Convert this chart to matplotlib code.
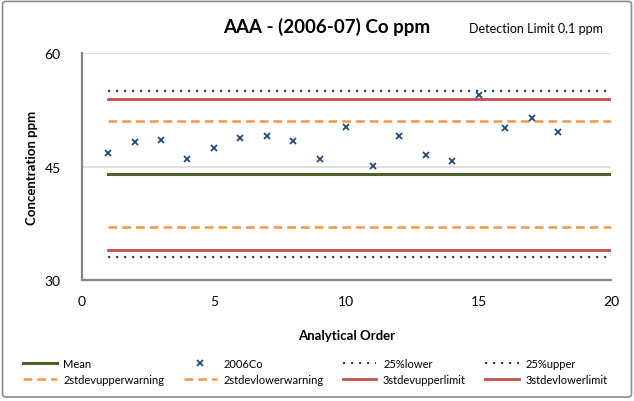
import numpy as np
import matplotlib.pyplot as plt
from matplotlib.patches import FancyBboxPatch

plt.rcParams['font.family'] = ['Lato', 'DejaVu Sans']

# Co results (ppm) in analytical order
order = list(range(1, 19))
co_2006 = [46.8, 48.3, 48.5, 46.0, 47.4, 48.8, 49.0, 48.4, 46.0, 50.2,
           45.1, 49.0, 46.5, 45.7, 54.5, 50.1, 51.4, 49.6]

# Control limits drawn across runs 1-20
limit_x = [1, 20]
mean_val = 44.0
upper_25 = 55.0
lower_25 = 33.0
warn_upper = 51.0
warn_lower = 37.0
limit_upper = 54.0
limit_lower = 34.0

navy = '#1F497D'
green = '#4F6228'
orange = '#F79646'
red = '#C0504D'

fig = plt.figure(figsize=(6.34, 4.02), dpi=100)
ax = fig.add_axes([0.1286, 0.301, 0.8356, 0.564])

ax.plot(limit_x, [mean_val] * 2, color=green, lw=2.2, label='Mean', zorder=3)
ax.plot(order, co_2006, linestyle='none', marker='x', ms=5, mew=1.3,
        color=navy, label='2006Co', zorder=5)
ax.plot(limit_x, [lower_25] * 2, color=navy, lw=1.6, linestyle=(0, (1, 2.6)),
        label='25%lower', zorder=3)
ax.plot(limit_x, [upper_25] * 2, color=navy, lw=1.6, linestyle=(0, (1, 2.6)),
        label='25%upper', zorder=3)
ax.plot(limit_x, [warn_upper] * 2, color=orange, lw=1.8, linestyle=(0, (3.5, 2)),
        label='2stdevupperwarning', zorder=3)
ax.plot(limit_x, [warn_lower] * 2, color=orange, lw=1.8, linestyle=(0, (3.5, 2)),
        label='2stdevlowerwarning', zorder=3)
ax.plot(limit_x, [limit_upper] * 2, color=red, lw=2.0, label='3stdevupperlimit', zorder=3)
ax.plot(limit_x, [limit_lower] * 2, color=red, lw=2.0, label='3stdevlowerlimit', zorder=3)

ax.set_xlim(0, 20)
ax.set_ylim(30, 60)
ax.set_xticks([0, 5, 10, 15, 20])
ax.set_yticks([30, 45, 60])
ax.tick_params(length=0, labelsize=10, colors='#000000')
ax.tick_params(axis='x', pad=11)
ax.tick_params(axis='y', pad=15)
ax.grid(axis='y', color='#D9D9D9', lw=1.2)
ax.set_axisbelow(True)
for side in ['top', 'right']:
    ax.spines[side].set_visible(False)
for side in ['left', 'bottom']:
    ax.spines[side].set_color('#868686')
    ax.spines[side].set_linewidth(1.6)

ax.set_xlabel('Analytical Order', fontsize=9.5, fontweight='bold', labelpad=16)
ax.set_ylabel('Concentration ppm', fontsize=9.5, fontweight='bold', labelpad=5)

fig.text(0.516, 0.932, 'AAA - (2006-07) Co ppm', fontsize=13.5, fontweight='bold',
         ha='center', va='center')
fig.text(0.845, 0.927, 'Detection Limit 0.1 ppm', fontsize=9, ha='center', va='center')

# legend reads row by row, matplotlib fills by column
handles, labels = ax.get_legend_handles_labels()
idx = [0, 4, 1, 5, 2, 6, 3, 7]
fig.legend([handles[i] for i in idx], [labels[i] for i in idx], ncol=4,
           loc='center', bbox_to_anchor=(0.03, 0.0234, 0.935, 0.1),
           mode='expand', frameon=False, fontsize=8, handlelength=3.0,
           handletextpad=0.6, labelspacing=0.5, borderaxespad=0)

# thin grey frame round the whole chart
fig.patches.append(FancyBboxPatch((0.004, 0.01), 0.992, 0.984,
                                  boxstyle='round,pad=0,rounding_size=0.006',
                                  transform=fig.transFigure, fill=False,
                                  edgecolor='#8C8C8C', lw=1.2))

fig.savefig('out.png', dpi=100)
